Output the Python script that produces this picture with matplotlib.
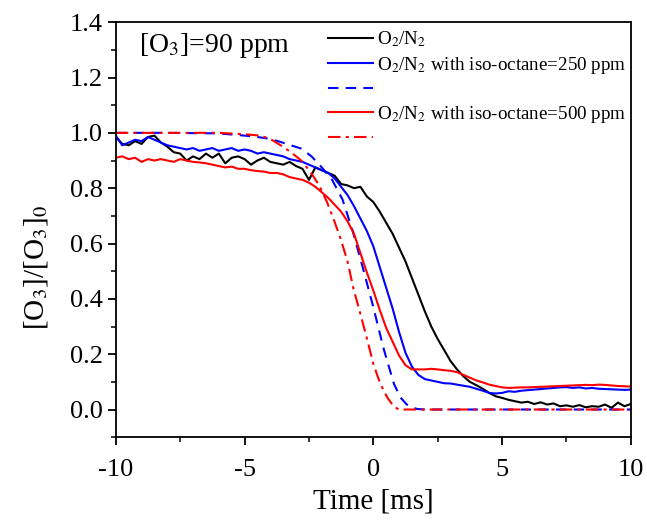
import matplotlib
matplotlib.use("Agg")
import matplotlib.pyplot as plt
import numpy as np

plt.rcParams["font.family"] = ["Liberation Serif", "DejaVu Serif"]
plt.rcParams["mathtext.fontset"] = "stix"
plt.rcParams["axes.unicode_minus"] = False

# measured traces, sampled every 0.25 ms
t_meas = np.arange(-10, 10.01, 0.25)
o2n2 = [0.985, 0.96, 0.955, 0.97, 0.96, 0.985, 0.99, 0.965, 0.95, 0.93,
        0.925, 0.90, 0.915, 0.905, 0.925, 0.91, 0.925, 0.89, 0.91, 0.915,
        0.905, 0.885, 0.90, 0.91, 0.895, 0.89, 0.885, 0.895, 0.88, 0.87,
        0.83, 0.875, 0.865, 0.855, 0.845, 0.815, 0.81, 0.80, 0.805, 0.77,
        0.75, 0.715, 0.675, 0.635, 0.585, 0.535, 0.475, 0.415, 0.355, 0.30,
        0.255, 0.215, 0.175, 0.145, 0.12, 0.10, 0.088, 0.075, 0.06, 0.048,
        0.042, 0.035, 0.03, 0.025, 0.028, 0.02, 0.026, 0.018, 0.022, 0.012,
        0.015, 0.01, 0.016, 0.008, 0.012, 0.01, 0.018, 0.006, 0.025, 0.012,
        0.02]
iso250 = [0.99, 0.955, 0.965, 0.975, 0.97, 0.985, 0.975, 0.965, 0.955, 0.95,
          0.945, 0.94, 0.945, 0.935, 0.94, 0.945, 0.935, 0.94, 0.945, 0.935,
          0.94, 0.935, 0.925, 0.93, 0.925, 0.92, 0.915, 0.905, 0.90, 0.895,
          0.885, 0.875, 0.865, 0.855, 0.835, 0.805, 0.775, 0.735, 0.69, 0.645,
          0.59, 0.515, 0.44, 0.365, 0.28, 0.205, 0.155, 0.125, 0.11, 0.105,
          0.10, 0.095, 0.094, 0.09, 0.086, 0.082, 0.075, 0.068, 0.06, 0.058,
          0.06, 0.066, 0.064, 0.068, 0.07, 0.072, 0.074, 0.076, 0.078, 0.08,
          0.081, 0.078, 0.08, 0.076, 0.078, 0.075, 0.074, 0.073, 0.072, 0.071,
          0.072]
iso500 = [0.91, 0.915, 0.905, 0.91, 0.895, 0.905, 0.90, 0.905, 0.90, 0.895,
          0.905, 0.90, 0.895, 0.893, 0.89, 0.885, 0.88, 0.875, 0.878, 0.87,
          0.87, 0.865, 0.862, 0.86, 0.855, 0.855, 0.85, 0.84, 0.835, 0.83,
          0.82, 0.805, 0.785, 0.765, 0.74, 0.715, 0.68, 0.635, 0.565, 0.495,
          0.43, 0.36, 0.295, 0.245, 0.195, 0.16, 0.145, 0.145, 0.145, 0.147,
          0.145, 0.142, 0.14, 0.135, 0.125, 0.115, 0.105, 0.098, 0.09, 0.085,
          0.08, 0.078, 0.079, 0.08, 0.08, 0.081, 0.082, 0.083, 0.084, 0.085,
          0.086, 0.087, 0.088, 0.089, 0.088, 0.09, 0.089, 0.087, 0.085, 0.084,
          0.083]

# model curves
t_sim250 = [-10, -8, -6, -5, -4.5, -4, -3.6, -3.2, -2.8, -2.4, -2.0, -1.6, -1.2,
            -0.8, -0.4, 0, 0.4, 0.8, 1.05, 1.3, 1.5, 1.7, 2, 10]
sim250 = [1.0, 1.0, 0.998, 0.99, 0.985, 0.978, 0.967, 0.955, 0.943, 0.915, 0.875,
          0.83, 0.76, 0.645, 0.51, 0.37, 0.22, 0.093, 0.044, 0.018, 0.008, 0.002,
          0.0, 0.0]
t_sim500 = [-10, -6, -5, -4.4, -4, -3.6, -3.2, -2.8, -2.45, -2.1, -1.8, -1.55,
            -1.28, -1.0, -0.78, -0.5, -0.23, 0, 0.27, 0.54, 0.8, 1.0, 10]
sim500 = [1.0, 1.0, 0.995, 0.99, 0.978, 0.955, 0.93, 0.90, 0.86, 0.81, 0.75, 0.69,
          0.62, 0.535, 0.44, 0.345, 0.25, 0.165, 0.093, 0.044, 0.01, 0.0, 0.0]

fig = plt.figure(figsize=(6.47, 5.28), dpi=100)
ax = fig.add_axes([0.179, 0.172, 0.796, 0.786])

lw = 1.5
h1, = ax.plot(t_meas, o2n2, color="black", lw=lw)
h2, = ax.plot(t_meas, iso250, color="blue", lw=lw)
h3, = ax.plot(t_sim250, sim250, color="blue", lw=lw, ls=(0, (5, 3.5)))
h4, = ax.plot(t_meas, iso500, color="red", lw=lw)
h5, = ax.plot(t_sim500, sim500, color="red", lw=lw, ls=(0, (6, 2.5, 1.5, 2.5)))

ax.set_xlim(-10, 10)
ax.set_ylim(-0.1, 1.4)
ax.set_xticks([-10, -5, 0, 5, 10])
ax.set_xticks(np.arange(-10, 10.1, 2.5), minor=True)
ax.set_yticks(np.arange(0, 1.41, 0.2))
ax.set_yticks(np.arange(-0.1, 1.41, 0.1), minor=True)
ax.yaxis.set_major_formatter(matplotlib.ticker.FormatStrFormatter("%.1f"))
ax.tick_params(which="major", direction="out", length=6, width=1.3, labelsize=19)
ax.tick_params(axis="x", which="major", pad=10)
ax.tick_params(which="minor", direction="out", length=3.5, width=1.1)
for s in ax.spines.values():
    s.set_linewidth(1.3)

ax.set_xlabel("Time [ms]", fontsize=21, labelpad=5)
ax.set_ylabel(r"[O$_3$]/[O$_3$]$_0$", fontsize=21)
ax.yaxis.set_label_coords(-0.128, 0.41)

ax.text(0.045, 0.928, r"[O$_3$]=90 ppm", transform=ax.transAxes, fontsize=20,
        va="baseline", ha="left")

labels = [r"O$_2$/N$_2$", r"O$_2$/N$_2$ with iso-octane=250 ppm", " ",
          r"O$_2$/N$_2$ with iso-octane=500 ppm", " "]
ax.legend([h1, h2, h3, h4, h5], labels, loc="upper left",
          bbox_to_anchor=(0.412, 0.982), frameon=False, fontsize=13.7,
          handlelength=2.35, handletextpad=0.25, labelspacing=0.28,
          borderpad=0, borderaxespad=0)

fig.savefig("out.png", dpi=100)
